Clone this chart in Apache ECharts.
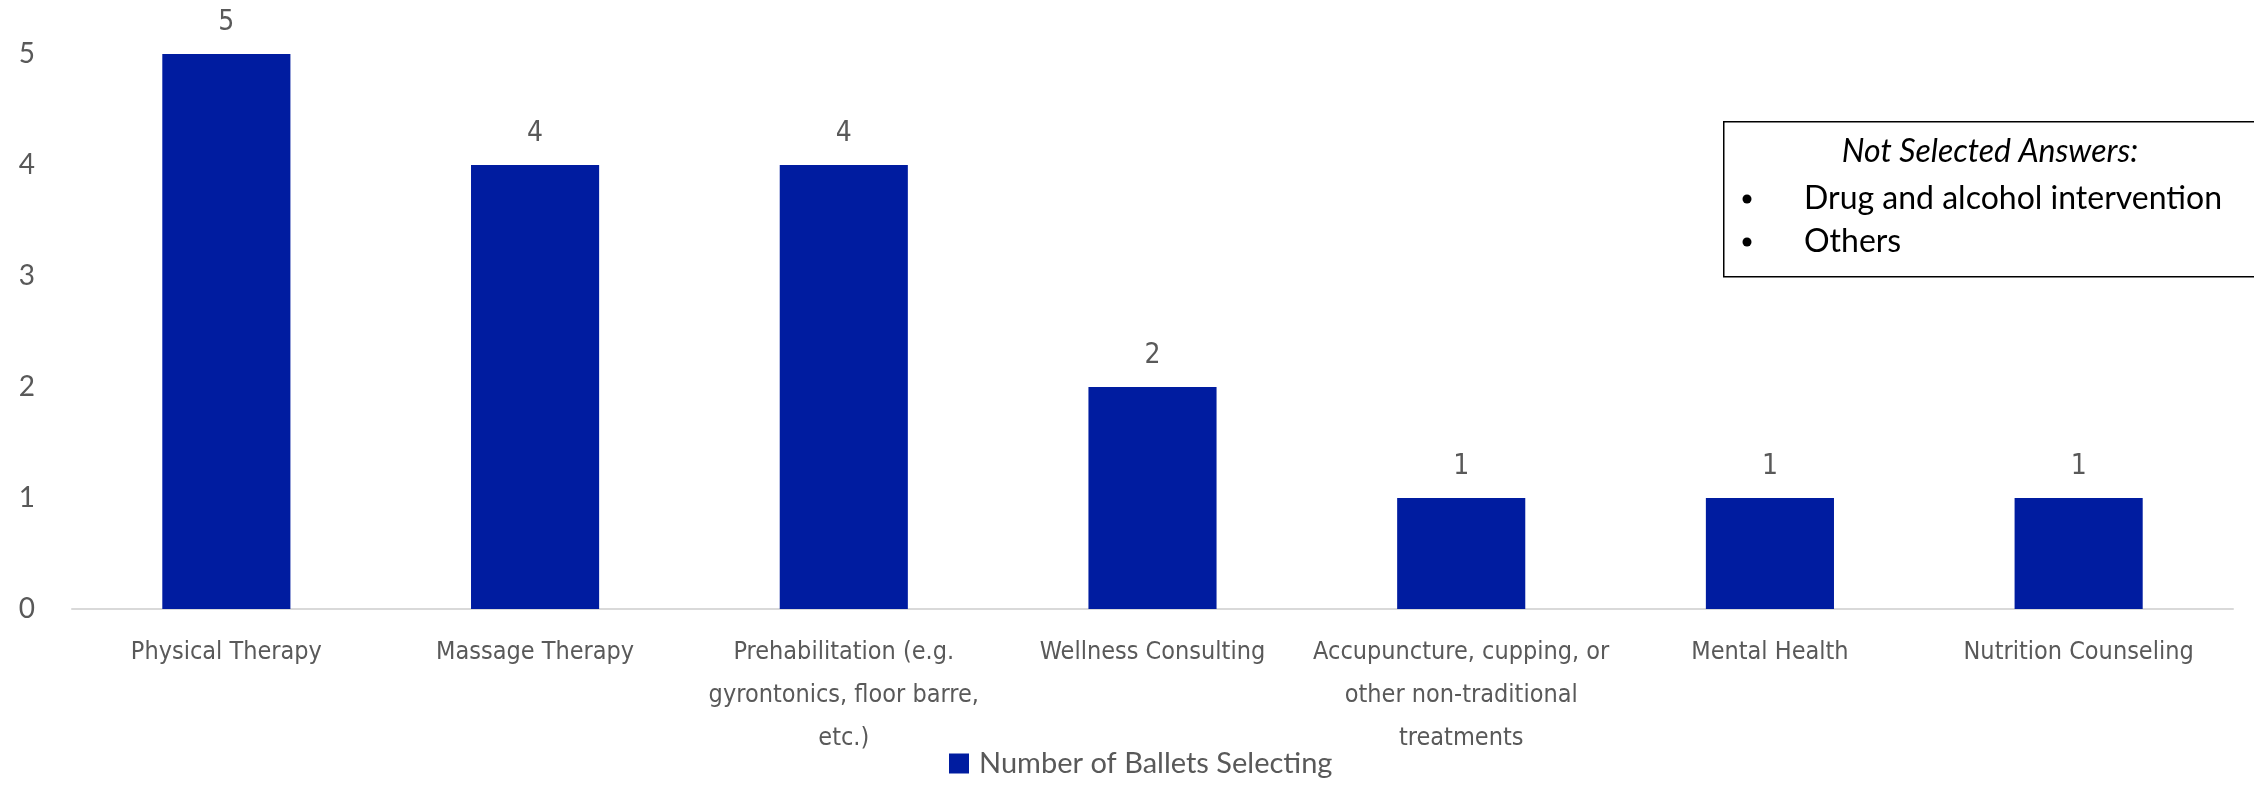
<!DOCTYPE html>
<html>
<head>
<meta charset="utf-8">
<script src="https://cdn.jsdelivr.net/npm/echarts@6/dist/echarts.min.js"></script>
<style>
  html, body { margin: 0; padding: 0; background: #ffffff; }
  #chart { width: 2254px; height: 785px; }
</style>
</head>
<body>
<div id="chart"></div>
<script>
// Wellness services offered, counted per ballet company
const categories = [
  'Physical Therapy',
  'Massage Therapy',
  'Prehabilitation (e.g.\ngyrontonics, floor barre,\netc.)',
  'Wellness Consulting',
  'Accupuncture, cupping, or\nother non-traditional\ntreatments',
  'Mental Health',
  'Nutrition Counseling'
];
const ballets = [5, 4, 4, 2, 1, 1, 1];
const yTicks = [0, 1, 2, 3, 4, 5];
const seriesName = 'Number of Ballets Selecting';
const notSelectedTitle = 'Not Selected Answers:';
const notSelected = ['Drug and alcohol intervention', 'Others'];

const barColor = '#001CA0';
const textGray = '#595959';
const labelFont = '"Liberation Sans Narrow", "DejaVu Sans Condensed", Lato, sans-serif';
const bodyFont = 'Lato, "Open Sans", sans-serif';

const chart = echarts.init(document.getElementById('chart'));

// Boxed note listing the answers nobody picked
const noteGraphics = [
  {
    type: 'rect',
    left: 1723, top: 121,
    shape: { width: 620, height: 155 },
    style: { fill: '#ffffff', stroke: '#000000', lineWidth: 1.5 },
    z: 10
  },
  {
    type: 'text',
    x: 1990, y: 152,
    style: {
      text: notSelectedTitle,
      font: 'italic 32px ' + bodyFont,
      fill: '#000000',
      textAlign: 'center',
      textVerticalAlign: 'middle'
    },
    z: 11
  }
];
notSelected.forEach(function (item, i) {
  const y = 199 + i * 43;
  noteGraphics.push({
    type: 'circle',
    shape: { cx: 1747, cy: y, r: 4.5 },
    style: { fill: '#000000' },
    z: 11
  });
  noteGraphics.push({
    type: 'text',
    x: 1804, y: y,
    style: {
      text: item,
      font: '32px ' + bodyFont,
      fill: '#000000',
      textAlign: 'left',
      textVerticalAlign: 'middle'
    },
    z: 11
  });
});

chart.setOption({
  animation: false,
  backgroundColor: '#ffffff',
  grid: { left: 72, right: 21, top: 54, bottom: 176, containLabel: false },
  legend: {
    data: [{ name: seriesName, icon: 'rect' }],
    bottom: 2,
    left: 944,
    itemWidth: 20,
    itemHeight: 20,
    itemGap: 10,
    textStyle: { fontFamily: bodyFont, fontSize: 29, color: textGray, padding: [0, 0, 0, 5] }
  },
  xAxis: {
    type: 'category',
    data: categories,
    axisLine: { lineStyle: { color: '#D9D9D9', width: 2 } },
    axisTick: { show: false },
    axisLabel: {
      interval: 0,
      margin: 22,
      fontFamily: labelFont,
      fontSize: 25,
      lineHeight: 43,
      color: textGray,
      align: 'center'
    }
  },
  yAxis: {
    type: 'value',
    min: 0,
    max: 5,
    interval: 1,
    splitLine: { show: false },
    axisLine: { show: false },
    axisTick: { show: false },
    axisLabel: {
      margin: 37,
      fontFamily: bodyFont,
      fontSize: 28,
      color: textGray,
      formatter: function (v) { return yTicks.indexOf(v) >= 0 ? String(v) : ''; }
    }
  },
  series: [{
    name: seriesName,
    type: 'bar',
    data: ballets,
    barWidth: '41.5%',
    itemStyle: { color: barColor },
    label: {
      show: true,
      position: 'top',
      distance: 17,
      fontFamily: labelFont,
      fontSize: 28,
      color: textGray
    }
  }],
  graphic: noteGraphics
});
</script>
</body>
</html>
